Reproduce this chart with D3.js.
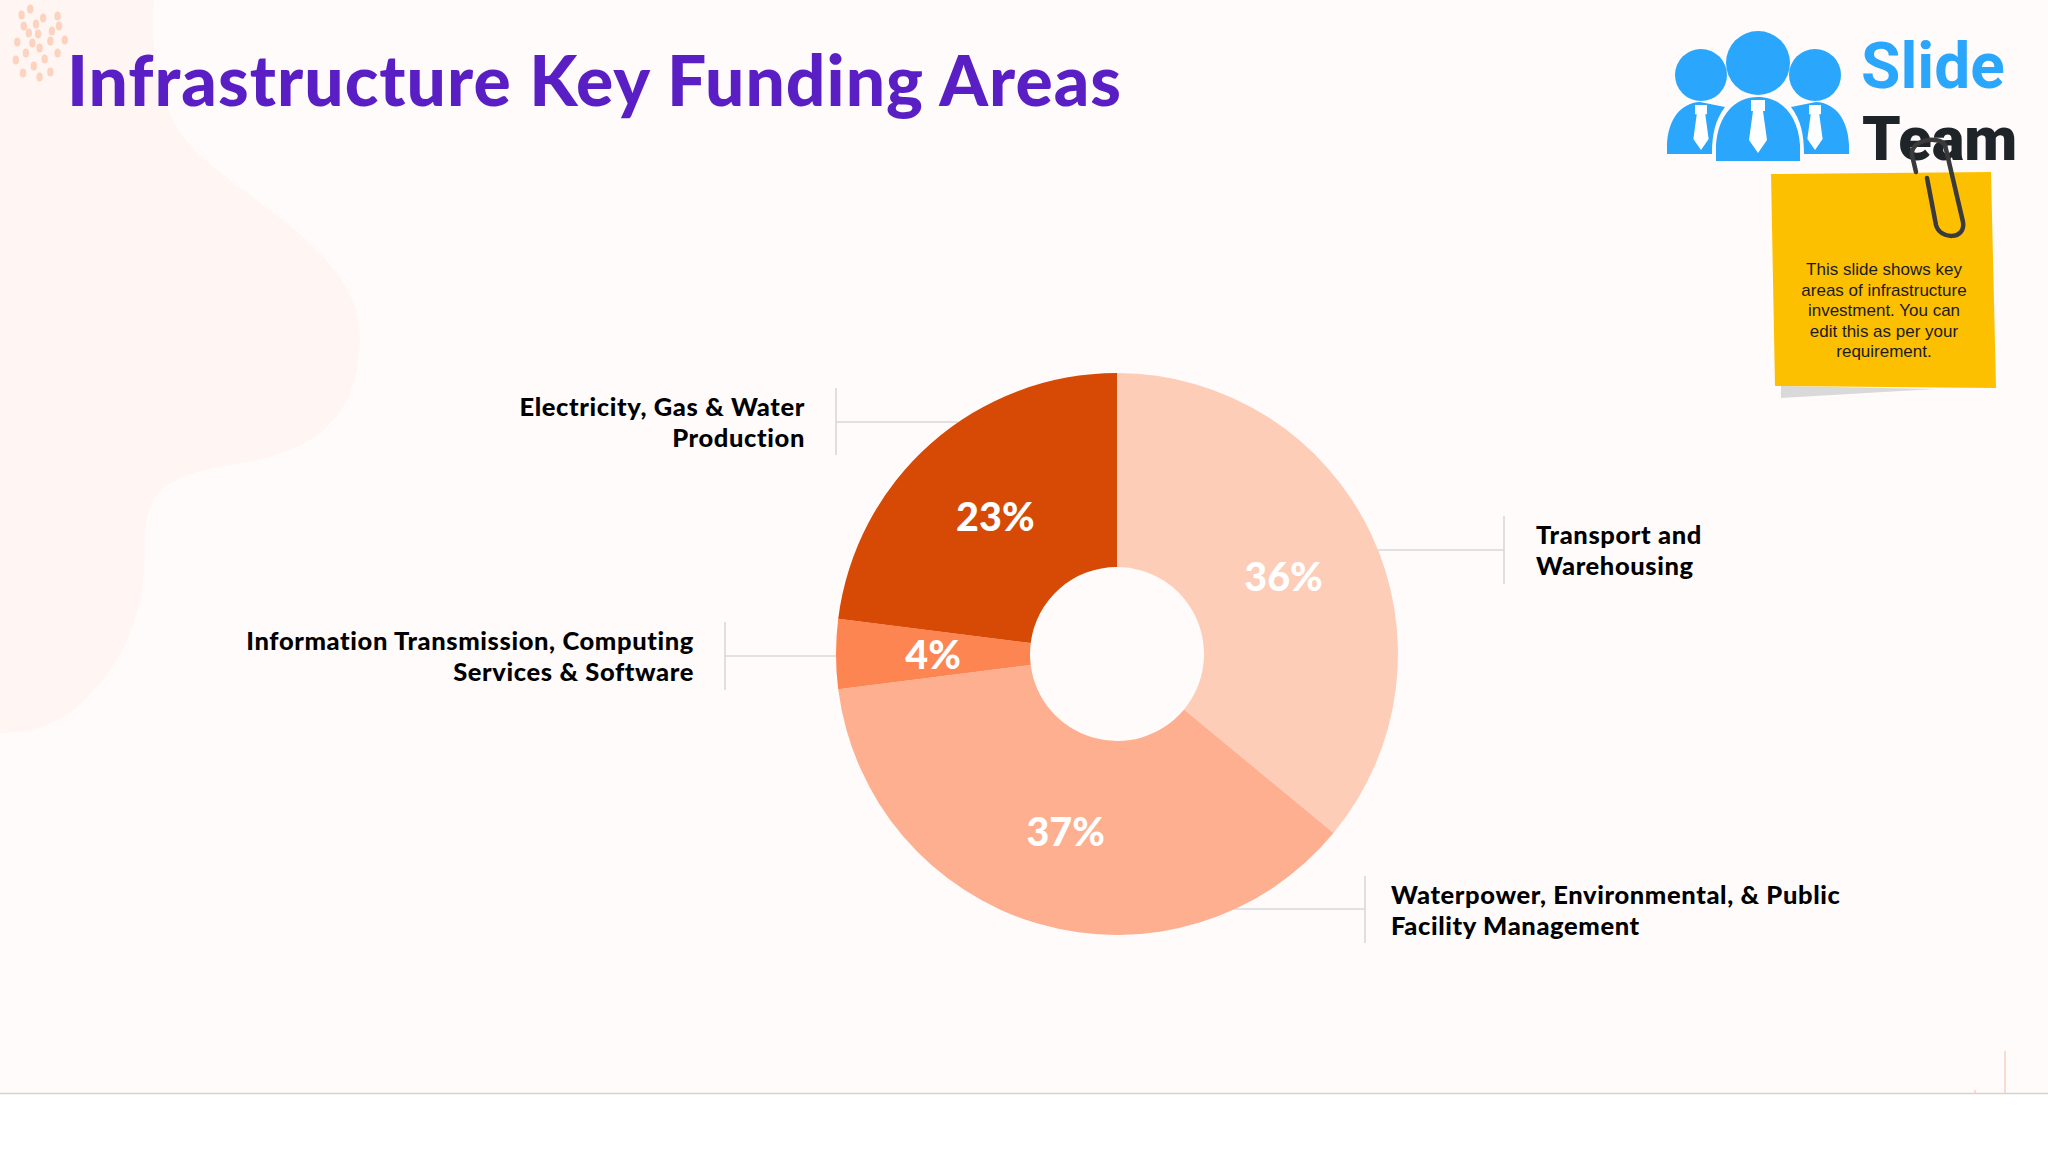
<!DOCTYPE html>
<html>
<head>
<meta charset="utf-8">
<script src="https://cdn.jsdelivr.net/npm/d3@7"></script>
<style>
    html, body { margin: 0; padding: 0; background: #fff; }
    svg { display: block; }
</style>
</head>
<body>
<script>
const categories = ["Transport and Warehousing",
    "Waterpower, Environmental, & Public Facility Management",
    "Information Transmission, Computing Services & Software",
    "Electricity, Gas & Water Production"];
const values = [36, 37, 4, 23];
const sliceColors = ["#fdcdb8", "#fdaf8f", "#fc8552", "#d64a05"];
const labelLines = [["Transport and", "Warehousing"],
    ["Waterpower, Environmental, & Public", "Facility Management"],
    ["Information Transmission, Computing", "Services & Software"],
    ["Electricity, Gas & Water", "Production"]];
const noteLines = ["This slide shows key", "areas of infrastructure", "investment. You can",
    "edit this as per your", "requirement."];

const width = 2048, height = 1152;
const cx = 1117, cy = 654, outer = 281, inner = 87;

// leader layout, same order as categories
const leaders = [
    {x0: 1378, x1: 1504, y: 550, top: 516, bottom: 584, textX: 1536, anchor: "start", base: 544},
    {x0: 1234, x1: 1365, y: 909, top: 876, bottom: 943, textX: 1391, anchor: "start", base: 904},
    {x0: 836, x1: 725, y: 656, top: 622, bottom: 690, textX: 694, anchor: "end", base: 650},
    {x0: 958, x1: 836, y: 422, top: 388, bottom: 455, textX: 805, anchor: "end", base: 416}
];

const svg = d3.select("body").append("svg")
    .attr("width", width)
    .attr("height", height);

svg.append("rect").attr("width", width).attr("height", 1093).attr("fill", "#fffbfa");

// pale blob behind the title
svg.append("path")
    .attr("d", "M0,0 L154,0 C150,60 160,110 190,145 C240,200 362,250 360,340 C358,430 300,455 230,465 " +
        "C170,475 145,490 145,540 C145,600 135,650 85,700 C60,725 30,733 0,733 Z")
    .attr("fill", "#fff6f3");

const dots = [[30, 15], [42, 9], [60, 18], [80, 16], [33, 26], [50, 24], [82, 26], [40, 33], [53, 34], [72, 31],
    [24, 42], [45, 43], [70, 41], [90, 40], [36, 53], [55, 48], [80, 53], [22, 60], [62, 59], [47, 66],
    [32, 73], [55, 77], [70, 72]];
svg.append("g").selectAll("ellipse")
    .data(dots)
    .enter().append("ellipse")
    .attr("cx", d => d[0] * 0.72)
    .attr("cy", d => d[1])
    .attr("rx", 3.2)
    .attr("ry", 4.6)
    .attr("fill", "#fbd3be");

svg.append("text")
    .attr("x", 67)
    .attr("y", 106)
    .attr("font-family", "Lato")
    .attr("font-weight", 900)
    .attr("font-size", 69.5)
    .attr("letter-spacing", 1.03)
    .attr("fill", "#5a1fc4")
    .text("Infrastructure Key Funding Areas");

// leaders go under the donut
const leaderG = svg.append("g").attr("stroke", "#d9d9d9").attr("stroke-width", 1.6).attr("fill", "none");
leaders.forEach(function (l) {
    leaderG.append("line").attr("x1", l.x0).attr("x2", l.x1).attr("y1", l.y).attr("y2", l.y);
    leaderG.append("line").attr("x1", l.x1).attr("x2", l.x1).attr("y1", l.top).attr("y2", l.bottom);
});

const color = d3.scaleOrdinal().domain(categories).range(sliceColors);
const pie = d3.pie().sort(null)(values);
const arc = d3.arc().innerRadius(inner).outerRadius(outer);

const donut = svg.append("g").attr("transform", "translate(" + cx + "," + cy + ")");

donut.selectAll("path")
    .data(pie)
    .enter().append("path")
    .attr("d", arc)
    .attr("fill", (d, i) => color(categories[i]));

donut.selectAll("text")
    .data(pie)
    .enter().append("text")
    .attr("transform", d => "translate(" + arc.centroid(d) + ")")
    .attr("text-anchor", "middle")
    .attr("dy", "0.38em")
    .attr("font-family", "Lato")
    .attr("font-weight", 900)
    .attr("font-size", 39.5)
    .attr("fill", "#fff")
    .text(d => d.value + "%");

leaders.forEach(function (l, i) {
    svg.append("g").selectAll("text")
        .data(labelLines[i])
        .enter().append("text")
        .attr("x", l.textX)
        .attr("y", (d, j) => l.base + j * 30.5)
        .attr("text-anchor", l.anchor)
        .attr("font-family", "Lato")
        .attr("font-weight", 900)
        .attr("font-size", 25.5)
        .attr("letter-spacing", 0.62)
        .attr("fill", "#000")
        .text(d => d);
});

// logo
const logo = svg.append("g").attr("fill", "#2ba6fd");
logo.append("circle").attr("cx", 1701).attr("cy", 75).attr("r", 26);
logo.append("circle").attr("cx", 1758).attr("cy", 63).attr("r", 32);
logo.append("circle").attr("cx", 1815).attr("cy", 75).attr("r", 26);
logo.append("path").attr("d", "M1667,154 L1667,145 C1668,120 1680,103 1700,102 L1725,107 C1715,120 1712,135 1712,154 Z");
logo.append("path").attr("d", "M1849,154 L1849,145 C1848,120 1836,103 1816,102 L1791,107 C1801,120 1804,135 1804,154 Z");
logo.append("path").attr("d", "M1716,161 L1716,145 C1718,115 1735,97 1758,97 C1781,97 1798,115 1800,145 L1800,161 Z");
const ties = [[1701, 105, 0.85], [1758, 100, 1], [1815, 105, 0.85]];
svg.append("g").selectAll("path")
    .data(ties)
    .enter().append("path")
    .attr("transform", d => "translate(" + d[0] + "," + d[1] + ") scale(" + d[2] + ")")
    .attr("d", "M-7,0 L7,0 L7,11 L5,11 L9,40 L0,53 L-9,40 L-5,11 L-7,11 Z")
    .attr("fill", "#fff");

svg.append("text").attr("x", 1861).attr("y", 88)
    .attr("font-family", "Roboto").attr("font-weight", 700).attr("font-size", 64)
    .attr("fill", "#2ba6fd").text("Slide");
svg.append("text").attr("x", 1862).attr("y", 160)
    .attr("font-family", "Roboto").attr("font-weight", 900).attr("font-size", 61.5)
    .attr("fill", "#1f2429").text("Team");

// sticky note
svg.append("polygon").attr("points", "1781,386 1781,398 1935,389").attr("fill", "#d9d9d9");
svg.append("polygon").attr("points", "1771,174 1991,172 1996,388 1775,386").attr("fill", "#fdc000");
svg.append("path")
    .attr("d", "M1916,172 L1912,155 C1910,140 1938,135 1945,145 L1963,222 C1966,240 1940,240 1936,225 L1927,178")
    .attr("fill", "none")
    .attr("stroke", "#3a3a3c")
    .attr("stroke-width", 4.5)
    .attr("stroke-linecap", "round");

svg.append("g").selectAll("text")
    .data(noteLines)
    .enter().append("text")
    .attr("x", 1884)
    .attr("y", (d, i) => 275 + i * 20.6)
    .attr("text-anchor", "middle")
    .attr("font-family", "Liberation Sans")
    .attr("font-size", 17)
    .attr("fill", "#1a1a1a")
    .text(d => d);

// footer rule
svg.append("line").attr("x1", 0).attr("x2", width).attr("y1", 1093.5).attr("y2", 1093.5)
    .attr("stroke", "#d4d4d4").attr("stroke-width", 1.3);
svg.append("line").attr("x1", 2005).attr("x2", 2005).attr("y1", 1051).attr("y2", 1093)
    .attr("stroke", "#f8d5c4").attr("stroke-width", 1.6);
svg.append("line").attr("x1", 1975).attr("x2", 1975).attr("y1", 1090).attr("y2", 1093)
    .attr("stroke", "#f8d5c4").attr("stroke-width", 1.6);
</script>
</body>
</html>
